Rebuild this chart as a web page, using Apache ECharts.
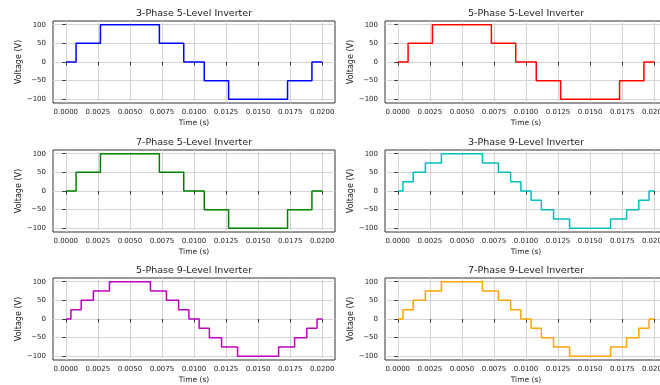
<!DOCTYPE html>
<html><head><meta charset="utf-8">
<script src="https://cdn.jsdelivr.net/npm/echarts@6/dist/echarts.min.js"></script>
<style>html,body{margin:0;padding:0;background:#fff;overflow:hidden} #c{width:660px;height:385px;}</style>
</head><body><div id="c"></div>
<script>
// ---- data ----
const titles = ['3-Phase 5-Level Inverter', '5-Phase 5-Level Inverter', '7-Phase 5-Level Inverter',
                '3-Phase 9-Level Inverter', '5-Phase 9-Level Inverter', '7-Phase 9-Level Inverter'];
const lineColors = ['#0000ff', '#ff0000', '#008000', '#00bfbf', '#bf00bf', '#ffa500'];

// switching instants (s) and the level held from that instant on
const time5Level = [0, 0.0008, 0.0027, 0.0073, 0.0092, 0.0108, 0.0127, 0.0173, 0.0192, 0.0200];
const volt3Phase5Level = [0, 50, 100, 50, 0, -50, -100, -50, 0, 0];
const volt5Phase5Level = [0, 50, 100, 50, 0, -50, -100, -50, 0, 0];
const volt7Phase5Level = [0, 50, 100, 50, 0, -50, -100, -50, 0, 0];

const time9Level = [0, 0.0004, 0.0012, 0.00215, 0.0034, 0.0066, 0.00785, 0.0088, 0.0096,
                    0.0104, 0.0112, 0.01215, 0.0134, 0.0166, 0.01785, 0.0188, 0.0196, 0.0200];
const volt3Phase9Level = [0, 25, 50, 75, 100, 75, 50, 25, 0, -25, -50, -75, -100, -75, -50, -25, 0, 0];
const volt5Phase9Level = [0, 25, 50, 75, 100, 75, 50, 25, 0, -25, -50, -75, -100, -75, -50, -25, 0, 0];
const volt7Phase9Level = [0, 25, 50, 75, 100, 75, 50, 25, 0, -25, -50, -75, -100, -75, -50, -25, 0, 0];

const xTickValues = [0, 0.0025, 0.005, 0.0075, 0.01, 0.0125, 0.015, 0.0175, 0.02];
const yTickValues = [-100, -50, 0, 50, 100];
const xLabel = 'Time (s)';
const yLabel = 'Voltage (V)';

// ---- build chart ----
const panelTimes = [time5Level, time5Level, time5Level, time9Level, time9Level, time9Level];
const panelVolts = [volt3Phase5Level, volt5Phase5Level, volt7Phase5Level, volt3Phase9Level, volt5Phase9Level, volt7Phase9Level];

const colLeft = [53, 385];
const rowTop = [21, 150, 278];
const gw = 282, gh = 82;
const FONT = '"DejaVu Sans", sans-serif';
const TXT = '#222';

const grids = [], xAxes = [], yAxes = [], series = [], graphics = [];
for (let i = 0; i < 6; i++) {
  const r = Math.floor(i / 2), c = i % 2;
  grids.push({left: colLeft[c], top: rowTop[r], width: gw, height: gh, show: true,
    borderColor: '#333', borderWidth: 1, backgroundColor: '#fff', containLabel: false,
    outerBoundsMode: 'none'});
  xAxes.push({type: 'value', gridIndex: i, min: -0.001, max: 0.021,
    name: xLabel, nameLocation: 'middle', nameGap: 16,
    nameTextStyle: {fontFamily: FONT, fontSize: 7.5, color: TXT},
    axisLine: {show: false},
    axisTick: {show: true, inside: false, length: 3.5, customValues: xTickValues, lineStyle: {color: '#333', width: 1}},
    axisLabel: {show: true, margin: 6, fontFamily: FONT, fontSize: 7, color: TXT, customValues: xTickValues,
      formatter: v => v.toFixed(4)},
    splitLine: {show: true, lineStyle: {color: '#d4d4d4', width: 1}}
  });
  yAxes.push({type: 'value', gridIndex: i, min: -110, max: 110,
    name: yLabel, nameLocation: 'middle', nameGap: 29,
    nameTextStyle: {fontFamily: FONT, fontSize: 8, color: TXT},
    axisLine: {show: false},
    axisTick: {show: true, inside: false, length: 3.5, customValues: yTickValues, lineStyle: {color: '#333', width: 1}},
    axisLabel: {show: true, margin: 7, fontFamily: FONT, fontSize: 7, color: TXT, customValues: yTickValues,
      formatter: v => (v < 0 ? '\u2212' + Math.abs(v) : String(v))},
    splitLine: {show: true, lineStyle: {color: '#d4d4d4', width: 1}}
  });
  series.push({type: 'line', xAxisIndex: i, yAxisIndex: i, step: 'end', showSymbol: false, symbol: 'none',
    animation: false, clip: true,
    lineStyle: {color: lineColors[i], width: 1.5},
    data: panelTimes[i].map((t, k) => [t, panelVolts[i][k]])});
  graphics.push({type: 'text', x: colLeft[c] + gw / 2, y: rowTop[r] - 7.5,
    style: {text: titles[i], font: '9.5px ' + FONT, fill: TXT,
      align: 'center', verticalAlign: 'middle', textAlign: 'center', textVerticalAlign: 'middle'}});
}

const chart = echarts.init(document.getElementById('c'), null, {renderer: 'canvas'});
chart.setOption({
  animation: false,
  backgroundColor: '#fff',
  grid: grids, xAxis: xAxes, yAxis: yAxes, series: series,
  graphic: {elements: graphics}
});
</script></body></html>
